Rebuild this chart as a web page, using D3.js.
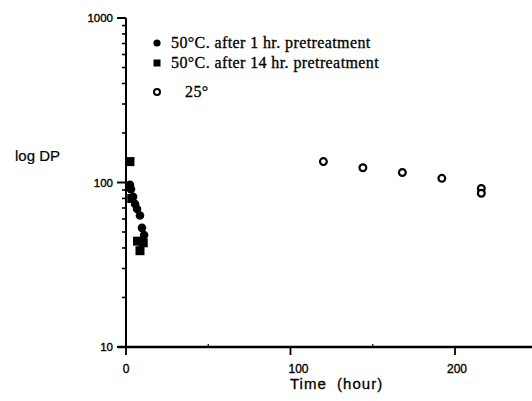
<!DOCTYPE html>
<html><head><meta charset="utf-8">
<script src="https://cdn.jsdelivr.net/npm/d3@7"></script>
<style>body{margin:0;background:#fff}svg{display:block}</style>
</head><body>
<svg id="c" width="532" height="401"></svg>
<script>
// Data
const time1hr = [2.4, 3, 4.3, 5.5, 6.7, 8.5, 9.7, 11];
const dp1hr   = [97, 91, 82, 74, 69, 63, 53, 48];
const time14hr = [2.4, 3.5, 7, 8.5, 10.5];
const dp14hr   = [134, 80, 44, 38.5, 43];
const time25 = [120, 144, 168, 192, 216, 216];
const dp25   = [134, 123, 115, 106, 92, 86];
const xMajorTicks = [0, 100, 200];
const xMinorTicks = [50, 150];
const yMajorTicks = [10, 100, 1000];
const legendLabels = ["50°C. after 1 hr. pretreatment", "50°C. after 14 hr. pretreatment", "25°"];

const svg = d3.select("#c");
const x = d3.scaleLinear().domain([0, 250]).range([126, 126 + 250 * 1.645]);
const y = d3.scaleLog().domain([10, 1000]).range([347, 18]);

const sans = "'Liberation Sans', Arial, sans-serif";
const serif = "'Liberation Serif', 'Times New Roman', serif";

// axes lines
svg.append("line").attr("x1", x(0)).attr("x2", x(0)).attr("y1", y(1000)).attr("y2", y(10) + 1)
  .attr("stroke", "#000").attr("stroke-width", 2);
svg.append("line").attr("x1", x(0) - 8).attr("x2", 532).attr("y1", y(10)).attr("y2", y(10))
  .attr("stroke", "#000").attr("stroke-width", 2.4);

// y ticks
const yMinor = [];
[10, 100].forEach(d => { for (let k = 2; k <= 9; k++) yMinor.push(d * k); });
svg.selectAll(".ymin").data(yMinor).join("line")
  .attr("x1", x(0) - 4).attr("x2", x(0)).attr("y1", d => y(d)).attr("y2", d => y(d))
  .attr("stroke", "#000").attr("stroke-width", 1.6);
svg.selectAll(".ymaj").data(yMajorTicks).join("line")
  .attr("x1", x(0) - 9).attr("x2", x(0)).attr("y1", d => y(d)).attr("y2", d => y(d))
  .attr("stroke", "#000").attr("stroke-width", 2);
svg.selectAll(".ylab").data(yMajorTicks).join("text")
  .attr("x", 113).attr("y", d => y(d) + 4).attr("text-anchor", "end")
  .attr("font-family", sans).attr("font-size", 11.5)
  .attr("stroke", "#000").attr("stroke-width", 0.35).text(d => d);

// x ticks
svg.selectAll(".xmaj").data(xMajorTicks).join("line")
  .attr("x1", d => x(d)).attr("x2", d => x(d)).attr("y1", y(10)).attr("y2", y(10) + 8)
  .attr("stroke", "#000").attr("stroke-width", 1.8);
svg.selectAll(".xmin").data(xMinorTicks).join("line")
  .attr("x1", d => x(d)).attr("x2", d => x(d)).attr("y1", y(10) - 3).attr("y2", y(10))
  .attr("stroke", "#000").attr("stroke-width", 1.2);
svg.selectAll(".xlab").data(xMajorTicks).join("text")
  .attr("x", d => x(d) + (d === 0 ? 0 : d === 100 ? 8 : 2)).attr("y", 373).attr("text-anchor", "middle")
  .attr("font-family", sans).attr("font-size", 12)
  .attr("stroke", "#000").attr("stroke-width", 0.35).text(d => d);

// axis titles
svg.append("text").attr("x", 290).attr("y", 389).attr("font-family", sans).attr("font-size", 15)
  .attr("letter-spacing", 1).attr("stroke", "#000").attr("stroke-width", 0.3)
  .style("white-space", "pre").text("Time  (hour)");
svg.append("text").attr("x", 15).attr("y", 161).attr("font-family", sans).attr("font-size", 15)
  .attr("stroke", "#000").attr("stroke-width", 0.2).text("log DP");

// data marks
const circ1 = time1hr.map((t, i) => [t, dp1hr[i]]);
const sq14 = time14hr.map((t, i) => [t, dp14hr[i]]);
const c25 = time25.map((t, i) => [t, dp25[i]]);

svg.selectAll(".c1").data(circ1).join("circle")
  .attr("cx", d => x(d[0])).attr("cy", d => y(d[1])).attr("r", 4.3).attr("fill", "#000");
svg.selectAll(".s14").data(sq14).join("rect")
  .attr("x", d => x(d[0]) - 4.5).attr("y", d => y(d[1]) - 4.5).attr("width", 9).attr("height", 9).attr("fill", "#000");
svg.selectAll(".c25").data(c25).join("circle")
  .attr("cx", d => x(d[0])).attr("cy", d => y(d[1])).attr("r", 3.4)
  .attr("fill", "#fff").attr("stroke", "#000").attr("stroke-width", 2.2);

// legend
const ly = [43, 63, 92];
svg.append("circle").attr("cx", 157).attr("cy", ly[0]).attr("r", 3.6).attr("fill", "#000");
svg.append("rect").attr("x", 153.5).attr("y", ly[1] - 3.5).attr("width", 7).attr("height", 7).attr("fill", "#000");
svg.append("circle").attr("cx", 157).attr("cy", ly[2]).attr("r", 3).attr("fill", "#fff").attr("stroke", "#000").attr("stroke-width", 2);
svg.selectAll(".leg").data(legendLabels).join("text")
  .attr("x", (d, i) => i === 2 ? 185 : 171).attr("y", (d, i) => ly[i] + 5)
  .attr("font-family", serif).attr("font-size", 16).attr("letter-spacing", 0.4)
  .attr("stroke", "#000").attr("stroke-width", 0.3).text(d => d);
</script>
</body></html>
